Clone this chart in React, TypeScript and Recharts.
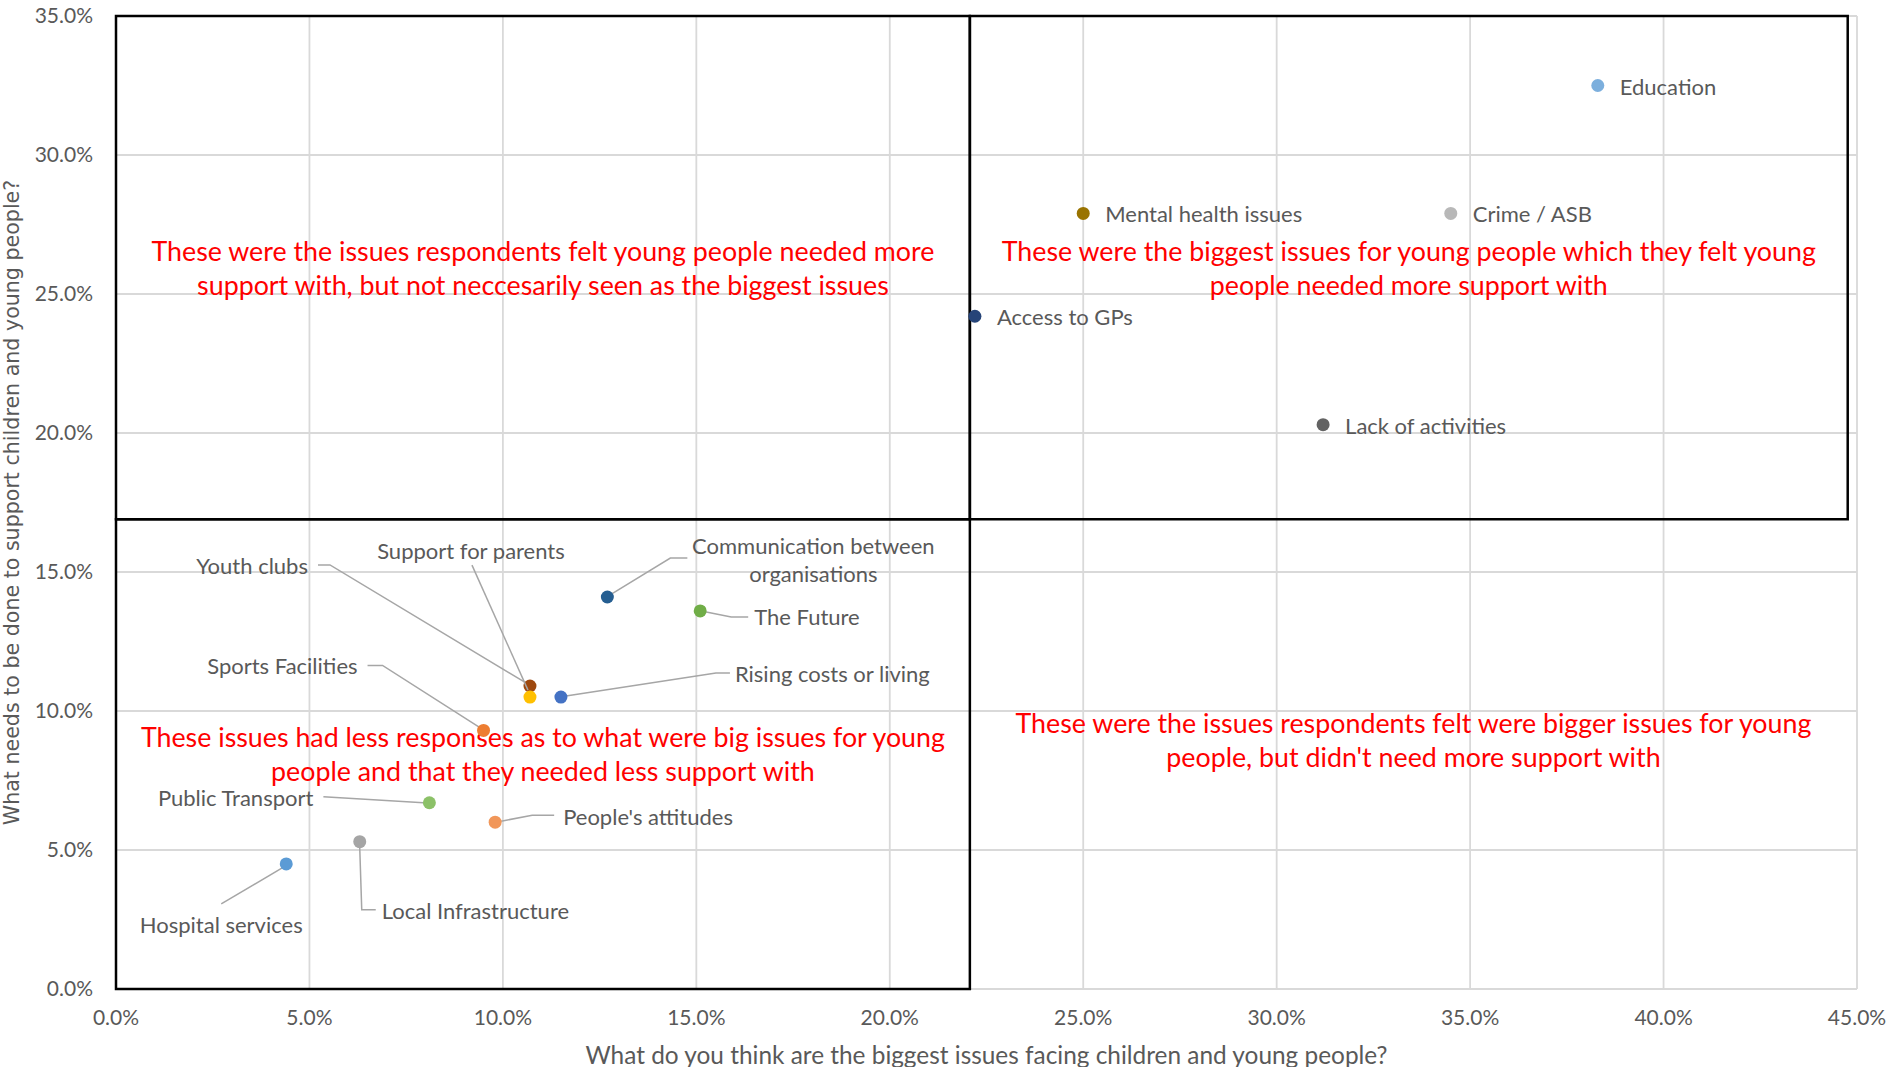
import { ScatterChart, Scatter, XAxis, YAxis, CartesianGrid, ReferenceArea, Label } from 'recharts';

// issue names, % saying it's a big issue (x), % saying more support needed (y)
const issues = [
  'Education',
  'Mental health issues',
  'Crime / ASB',
  'Access to GPs',
  'Lack of activities',
  'Communication between organisations',
  'The Future',
  'Youth clubs',
  'Support for parents',
  'Rising costs or living',
  'Sports Facilities',
  'Public Transport',
  "People's attitudes",
  'Local Infrastructure',
  'Hospital services',
];
const biggestIssue = [38.3, 25.0, 34.5, 22.2, 31.2, 12.7, 15.1, 10.7, 10.7, 11.5, 9.5, 8.1, 9.8, 6.3, 4.4];
const needsSupport = [32.5, 27.9, 27.9, 24.2, 20.3, 14.1, 13.6, 10.9, 10.5, 10.5, 9.3, 6.7, 6.0, 5.3, 4.5];
const dotColors = [
  '#7cafdd', '#997300', '#b8b8b8', '#264478', '#636363', '#255e91', '#70ad47',
  '#9e480e', '#ffc000', '#4472c4', '#ed7d31', '#8cc168', '#f1975a', '#a5a5a5', '#5b9bd5',
];

const xTicks = [0, 5, 10, 15, 20, 25, 30, 35, 40, 45];
const yTicks = [0, 5, 10, 15, 20, 25, 30, 35];

// quadrant split lines
const splitX = 22.07;
const splitY = 16.9;
const boxRight = 44.76;

const quadrantNotes = [
  ['These were the issues respondents felt young people needed more', 'support with, but not neccesarily seen as the biggest issues'],
  ['These were the biggest issues for young people which they felt young', 'people needed more support with'],
  ['These issues had less responses as to what were big issues for young', 'people and that they needed less support with'],
  ['These were the issues respondents felt were bigger issues for young', "people, but didn't need more support with"],
];

const data = issues.map((name, i) => ({
  name,
  x: biggestIssue[i],
  y: needsSupport[i],
  color: dotColors[i],
}));

type Place = {
  tx: number;
  ty: number;
  anchor: 'start' | 'end' | 'middle';
  lines?: string[];
  leader?: [number, number][];
};

// label offsets (px) from each dot, with leader line points
const labelPlace: Record<string, Place> = {
  Education: { tx: 22, ty: 0, anchor: 'start' },
  'Mental health issues': { tx: 22, ty: 0, anchor: 'start' },
  'Crime / ASB': { tx: 22, ty: 0, anchor: 'start' },
  'Access to GPs': { tx: 22, ty: 0, anchor: 'start' },
  'Lack of activities': { tx: 22, ty: 0, anchor: 'start' },
  'Communication between organisations': {
    tx: 206, ty: -52, anchor: 'middle', lines: ['Communication between', 'organisations'],
    leader: [[4, -3], [63, -39], [80, -39]],
  },
  'The Future': { tx: 54, ty: 5, anchor: 'start', leader: [[6, 1], [31, 6], [48, 6]] },
  'Youth clubs': { tx: -222, ty: -121, anchor: 'end', leader: [[-4, -3], [-200, -121], [-212, -121]] },
  'Support for parents': { tx: -59, ty: -147, anchor: 'middle', leader: [[-2, -7], [-58, -132]] },
  'Rising costs or living': { tx: 174, ty: -24, anchor: 'start', leader: [[5, -1], [155, -24], [169, -24]] },
  'Sports Facilities': { tx: -126, ty: -65, anchor: 'end', leader: [[-4, -3], [-101, -65], [-116, -65]] },
  'Public Transport': { tx: -116, ty: -6, anchor: 'end', leader: [[-6, 0], [-106, -6]] },
  "People's attitudes": { tx: 68, ty: -6, anchor: 'start', leader: [[6, -1], [37, -7], [59, -7]] },
  'Local Infrastructure': { tx: 22, ty: 68, anchor: 'start', leader: [[0, 6], [2, 68], [16, 68]] },
  'Hospital services': { tx: -65, ty: 60, anchor: 'middle', leader: [[-4, 4], [-65, 40]] },
};

const labelFont = 'Lato, "Open Sans", sans-serif';

function renderPoint(props: any) {
  const { cx, cy, payload } = props;
  const p = labelPlace[payload.name];
  const lines = p.lines ?? [payload.name];
  return (
    <g>
      {p.leader ? (
        <polyline
          points={p.leader.map(([dx, dy]) => `${cx + dx},${cy + dy}`).join(' ')}
          fill="none"
          stroke="#a6a6a6"
          strokeWidth={1.5}
        />
      ) : null}
      <circle cx={cx} cy={cy} r={6.5} fill={payload.color} />
      <text
        x={cx + p.tx}
        y={cy + p.ty}
        textAnchor={p.anchor}
        dominantBaseline="central"
        fill="#595959"
        fontSize={22}
        fontFamily={labelFont}
      >
        {lines.map((l, i) => (
          <tspan key={i} x={cx + p.tx} dy={i === 0 ? 0 : 28}>
            {l}
          </tspan>
        ))}
      </text>
    </g>
  );
}

function quadNote(lines: string[], shift = 0) {
  return (props: any) => {
    const vb = props.viewBox;
    const mx = vb.x + vb.width / 2;
    const my = vb.y + vb.height / 2 + shift;
    return (
      <text
        x={mx}
        y={my - 17}
        textAnchor="middle"
        dominantBaseline="central"
        fill="#ff0000"
        fontSize={26.8}
        fontFamily={labelFont}
      >
        {lines.map((l, i) => (
          <tspan key={i} x={mx} dy={i === 0 ? 0 : 34}>
            {l}
          </tspan>
        ))}
      </text>
    );
  };
}

const pct = (v: number) => `${v.toFixed(1)}%`;

export default function App() {
  return (
    <div style={{ position: 'absolute', left: 0, top: 0, width: 1893, height: 1067, background: '#fff' }}>
      <ScatterChart width={1893} height={1067} margin={{ top: 16, right: 36, bottom: 28, left: 36 }}>
        <CartesianGrid stroke="#d9d9d9" strokeWidth={1.8} />
        <XAxis
          type="number"
          dataKey="x"
          domain={[0, 45]}
          ticks={xTicks}
          tickFormatter={pct}
          height={50}
          tickLine={false}
          axisLine={false}
          tickMargin={15}
          tick={{ fill: '#595959', fontSize: 21, fontFamily: labelFont }}
        >
          <Label
            content={(props: any) => {
              const vb = props.viewBox;
              return (
                <text
                  x={vb.x + vb.width / 2}
                  y={1054}
                  textAnchor="middle"
                  dominantBaseline="central"
                  fill="#595959"
                  fontSize={24.4}
                  fontFamily={labelFont}
                >
                  What do you think are the biggest issues facing children and young people?
                </text>
              );
            }}
          />
        </XAxis>
        <YAxis
          type="number"
          dataKey="y"
          domain={[0, 35]}
          ticks={yTicks}
          tickFormatter={pct}
          width={80}
          tickLine={false}
          axisLine={false}
          tickMargin={17}
          tick={{ fill: '#595959', fontSize: 21, fontFamily: labelFont }}
        >
          <Label
            content={(props: any) => {
              const vb = props.viewBox;
              const cy = vb.y + vb.height / 2;
              return (
                <text
                  x={12}
                  y={cy}
                  transform={`rotate(-90, 12, ${cy})`}
                  textAnchor="middle"
                  dominantBaseline="central"
                  fill="#595959"
                  fontSize={20.6}
                  fontFamily='"DejaVu Sans", Verdana, sans-serif'
                >
                  What needs to be done to support children and young people?
                </text>
              );
            }}
          />
        </YAxis>
        <ReferenceArea x1={0} x2={splitX} y1={splitY} y2={35} fill="none" stroke="#000" strokeWidth={2.5} label={quadNote(quadrantNotes[0])} />
        <ReferenceArea x1={splitX} x2={boxRight} y1={splitY} y2={35} fill="none" stroke="#000" strokeWidth={2.5} label={quadNote(quadrantNotes[1])} />
        <ReferenceArea x1={0} x2={splitX} y1={0} y2={splitY} fill="none" stroke="#000" strokeWidth={2.5} label={quadNote(quadrantNotes[2])} />
        <ReferenceArea x1={splitX} x2={45} y1={0} y2={splitY} fill="none" stroke="none" label={quadNote(quadrantNotes[3], -14)} />
        <Scatter data={data} shape={renderPoint} isAnimationActive={false} />
      </ScatterChart>
    </div>
  );
}
